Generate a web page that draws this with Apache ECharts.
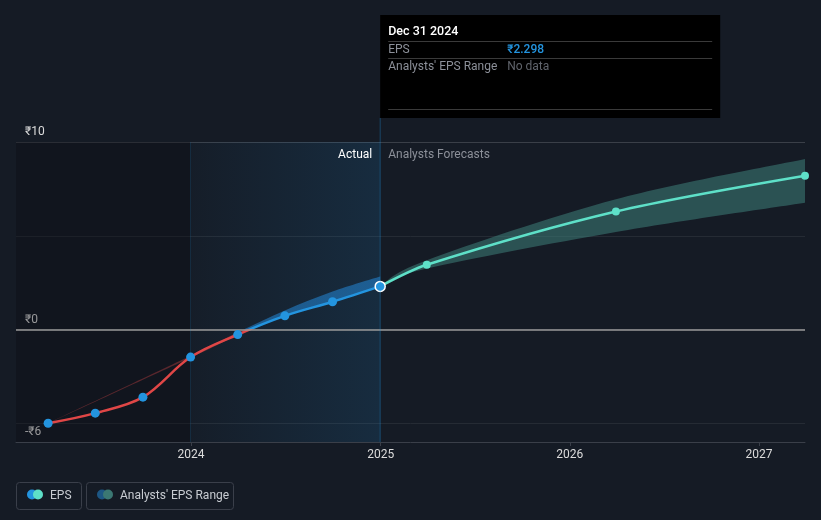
<!DOCTYPE html>
<html><head><meta charset="utf-8">
<script src="https://cdn.jsdelivr.net/npm/echarts@6/dist/echarts.min.js"></script>
<style>html,body{margin:0;padding:0;background:#151b25;}#c{width:821px;height:520px;}</style>
</head><body><div id="c"></div>
<script>
// ---- data ----
const actualDates = ['2023-03-31','2023-06-30','2023-09-30','2023-12-31','2024-03-31','2024-06-30','2024-09-30','2024-12-31'];
const actualEps = [-5.0, -4.46, -3.61, -1.47, -0.27, 0.73, 1.48, 2.298];
const pastRangeDates = ['2023-03-31','2023-12-31','2024-03-31','2024-06-30','2024-09-30','2024-12-31'];
const pastRangeLow = [-5.0, -1.5, -0.3, 0.73, 1.48, 2.298];
const pastRangeHigh = [-5.0, -1.4, -0.15, 1.02, 2.03, 2.83];
const forecastDates = ['2024-12-31','2025-03-31','2026-03-31','2027-03-31'];
const forecastEps = [2.298, 3.45, 6.29, 8.2];
const forecastLow = [2.298, 3.25, 5.2, 6.76];
const forecastHigh = [2.298, 3.7, 6.95, 9.1];
const xTickDates = ['2024-01-01','2025-01-01','2026-01-01','2027-01-01'];
const yLabelValues = [-6, 0, 10];
const yGridValues = [-5, 0, 5, 10];
const xMinDate = '2023-01-28', xMaxDate = '2027-03-31';
const pastStartDate = '2023-12-31';
const signChangeDate = '2024-04-15';

const ts = d => { const p = d.split('-').map(Number); return Date.UTC(p[0], p[1] - 1, p[2]); };
const lastActualDate = actualDates[actualDates.length - 1];

const RED = '#e04646', BLUE = '#2394df', TEAL = '#5ee0c8';
const FONT = 'Roboto, "Noto Sans", sans-serif';

const chart = echarts.init(document.getElementById('c'), null, {renderer: 'canvas'});
const pair = (ds, vs) => ds.map((d, i) => [ts(d), vs[i]]);
const triple = (ds, lo, hi) => ds.map((d, i) => [ts(d), lo[i], hi[i]]);

// smooth cubic path segments through pixel points
function smoothSegs(pts, t) {
  let s = '';
  for (let i = 0; i < pts.length - 1; i++) {
    const p0 = pts[i - 1] || pts[i], p1 = pts[i], p2 = pts[i + 1], p3 = pts[i + 2] || p2;
    const c1 = [p1[0] + (p2[0] - p0[0]) * t, p1[1] + (p2[1] - p0[1]) * t];
    const c2 = [p2[0] - (p3[0] - p1[0]) * t, p2[1] - (p3[1] - p1[1]) * t];
    s += ' C' + c1[0] + ',' + c1[1] + ' ' + c2[0] + ',' + c2[1] + ' ' + p2[0] + ',' + p2[1];
  }
  return s;
}
// range band: drawn once from all rows of the series (x, low, high)
function bandRenderer(fillFn) {
  return function (params, api) {
    if (params.dataIndexInside !== 0) return null;
    const n = params.dataInsideLength;
    const up = [], lo = [];
    for (let i = 0; i < n; i++) {
      up.push(api.coord([api.value(0, i), api.value(2, i)]));
      lo.push(api.coord([api.value(0, i), api.value(1, i)]));
    }
    lo.reverse();
    const d = 'M' + up[0][0] + ',' + up[0][1] + smoothSegs(up, 0.17) +
      ' L' + lo[0][0] + ',' + lo[0][1] + smoothSegs(lo, 0.17) + ' Z';
    return {type: 'path', shape: {pathData: d}, style: {fill: fillFn(api, up)}};
  };
}

const option = {
  backgroundColor: '#151b25',
  animation: false,
  textStyle: {fontFamily: FONT},
  grid: {left: 16, right: 16, top: 142, bottom: 78, containLabel: false},
  xAxis: {
    type: 'value', min: ts(xMinDate), max: ts(xMaxDate),
    axisLine: {show: true, onZero: false, lineStyle: {color: '#3a3f49', width: 1}},
    axisTick: {show: true, customValues: xTickDates.map(ts), length: 4, lineStyle: {color: '#3a3f49'}},
    axisLabel: {customValues: xTickDates.map(ts), color: '#dcdcdc', fontSize: 12, margin: 7, fontFamily: FONT,
      formatter: v => String(new Date(v).getUTCFullYear())},
    splitLine: {show: false}
  },
  yAxis: {
    type: 'value', min: -6, max: 10,
    axisLine: {show: false},
    axisTick: {show: false, customValues: yGridValues},
    axisLabel: {customValues: yLabelValues, inside: true, margin: 9, verticalAlign: 'bottom',
      padding: [0, 0, 4, 0], color: '#dcdcdc', fontSize: 12, fontFamily: FONT,
      formatter: v => (v < 0 ? '-₹' + Math.abs(v) : '₹' + v)},
    splitLine: {show: true, lineStyle: {color: ['#252b34', '#252b34', '#252b34', '#3a3f48'], width: 1}}
  },
  visualMap: [
    {type: 'piecewise', show: false, seriesIndex: 3, dimension: 1,
      pieces: [{min: -1000, max: 0, color: RED}, {min: 0, max: 1000, color: BLUE}]}
  ],
  series: [
    { // 0: background zones and reference lines
      type: 'line', data: [], z: 1, silent: true,
      markArea: {silent: true, data: [
        [{xAxis: ts(xMinDate), itemStyle: {color: 'rgba(10,10,14,0.32)'}}, {xAxis: ts(pastStartDate)}],
        [{xAxis: ts(pastStartDate), itemStyle: {color: new echarts.graphic.LinearGradient(0, 0, 1, 0, [
            {offset: 0, color: 'rgba(35,148,223,0.02)'}, {offset: 1, color: 'rgba(35,148,223,0.14)'}])}},
         {xAxis: ts(lastActualDate)}]
      ]},
      markLine: {silent: true, symbol: 'none', label: {show: false}, data: [
        {yAxis: 0, lineStyle: {color: '#9a9a9a', width: 1.5, type: 'solid'}},
        {xAxis: ts(pastStartDate), lineStyle: {color: 'rgba(35,148,223,0.16)', width: 1, type: 'solid'}}
      ]}
    },
    { // 1: past analysts' range band
      type: 'custom', z: 2, silent: true, clip: true,
      data: triple(pastRangeDates, pastRangeLow, pastRangeHigh), encode: {x: 0, y: [1, 2]},
      renderItem: bandRenderer(function (api, up) {
        const x0 = up[0][0], x1 = up[up.length - 1][0];
        const xc = api.coord([ts(signChangeDate), 0])[0];
        const o = Math.max(0, Math.min(1, (xc - x0) / (x1 - x0)));
        return new echarts.graphic.LinearGradient(0, 0, 1, 0, [
          {offset: 0, color: 'rgba(224,70,70,0.35)'}, {offset: o, color: 'rgba(224,70,70,0.35)'},
          {offset: o, color: 'rgba(35,135,215,0.55)'}, {offset: 1, color: 'rgba(35,135,215,0.55)'}]);
      })
    },
    { // 2: forecast analysts' range band
      type: 'custom', z: 2, silent: true, clip: true,
      data: triple(forecastDates, forecastLow, forecastHigh), encode: {x: 0, y: [1, 2]},
      renderItem: bandRenderer(() => 'rgba(62,128,122,0.55)')
    },
    { // 3: EPS actual line
      type: 'line', name: 'EPS', data: pair(actualDates, actualEps), symbol: 'none', smooth: 0.35,
      lineStyle: {width: 2.5}, z: 3, silent: true
    },
    { // 4: forecast line
      type: 'line', name: 'EPS forecast', smooth: 0.3, z: 3, silent: true,
      data: forecastDates.map((d, i) => i === 0 ? {value: [ts(d), forecastEps[i]], symbol: 'none'} : [ts(d), forecastEps[i]]),
      symbol: 'circle', symbolSize: 8, showSymbol: true,
      lineStyle: {width: 2.5, color: TEAL}, itemStyle: {color: TEAL, opacity: 1}
    },
    { // 5: EPS markers
      type: 'scatter', z: 5, silent: true, symbolSize: 9, itemStyle: {color: BLUE, opacity: 1},
      data: actualDates.map((d, i) => i === actualDates.length - 1
        ? {value: [ts(d), actualEps[i]], symbolSize: 10, itemStyle: {color: BLUE, opacity: 1, borderColor: '#ffffff', borderWidth: 1.5}}
        : [ts(d), actualEps[i]])
    }
  ]
};
chart.setOption(option);

// ---- overlays: hover-card, section labels, legend ----
const px = chart.convertToPixel({xAxisIndex: 0}, ts(lastActualDate));
const gridBottom = 520 - 78;
const months = ['Jan','Feb','Mar','Apr','May','Jun','Jul','Aug','Sep','Oct','Nov','Dec'];
const dParts = lastActualDate.split('-');
const dateLabel = months[+dParts[1] - 1] + ' ' + (+dParts[2]) + ' ' + dParts[0];
const valueLabel = '₹' + actualEps[actualEps.length - 1].toFixed(3);
const tipW = 340, tipTop = 15, tipH = 103;
const tx = px + 8, vx = px + 127;

chart.setOption({graphic: [
  {type: 'line', silent: true, z: 10, shape: {x1: px, y1: tipTop + tipH, x2: px, y2: gridBottom},
    style: {stroke: 'rgba(35,148,223,0.35)', lineWidth: 1}},
  {type: 'rect', silent: true, z: 20, shape: {x: px, y: tipTop, width: tipW, height: tipH}, style: {fill: '#000000'}},
  {type: 'text', silent: true, z: 21, x: tx, y: 32, style: {text: dateLabel, fill: '#ffffff', font: '500 12.5px ' + FONT, verticalAlign: 'middle'}},
  {type: 'line', silent: true, z: 21, shape: {x1: tx, y1: 41.5, x2: px + tipW - 8, y2: 41.5}, style: {stroke: '#3a3a3a', lineWidth: 1}},
  {type: 'text', silent: true, z: 21, x: tx, y: 50, style: {text: 'EPS', fill: '#8c9099', font: '12px ' + FONT, verticalAlign: 'middle'}},
  {type: 'text', silent: true, z: 21, x: vx, y: 50, style: {text: valueLabel, fill: BLUE, font: '500 12px ' + FONT, verticalAlign: 'middle'}},
  {type: 'line', silent: true, z: 21, shape: {x1: tx, y1: 58.5, x2: px + tipW - 8, y2: 58.5}, style: {stroke: '#3a3a3a', lineWidth: 1}},
  {type: 'text', silent: true, z: 21, x: tx, y: 67, style: {text: "Analysts' EPS Range", fill: '#8c9099', font: '12px ' + FONT, verticalAlign: 'middle'}},
  {type: 'text', silent: true, z: 21, x: vx, y: 67, style: {text: 'No data', fill: '#60646c', font: '12px ' + FONT, verticalAlign: 'middle'}},
  {type: 'line', silent: true, z: 21, shape: {x1: tx, y1: 109.5, x2: px + tipW - 8, y2: 109.5}, style: {stroke: '#3a3a3a', lineWidth: 1}},

  {type: 'text', silent: true, z: 11, x: px - 8, y: 155, style: {text: 'Actual', fill: '#ffffff', font: '12px ' + FONT, align: 'right', verticalAlign: 'middle'}},
  {type: 'text', silent: true, z: 11, x: px + 8, y: 155, style: {text: 'Analysts Forecasts', fill: '#8c9099', font: '12px ' + FONT, align: 'left', verticalAlign: 'middle'}},

  {type: 'rect', silent: true, z: 11, shape: {x: 16.5, y: 482.5, width: 65, height: 27, r: 3}, style: {fill: 'transparent', stroke: '#3a3f4a', lineWidth: 1}},
  {type: 'circle', silent: true, z: 12, shape: {cx: 32, cy: 494.5, r: 5}, style: {fill: BLUE}},
  {type: 'circle', silent: true, z: 13, shape: {cx: 38, cy: 494.5, r: 5}, style: {fill: TEAL}},
  {type: 'text', silent: true, z: 12, x: 50, y: 496, style: {text: 'EPS', fill: '#c8ccd2', font: '12px ' + FONT, verticalAlign: 'middle'}},
  {type: 'rect', silent: true, z: 11, shape: {x: 86.5, y: 482.5, width: 147, height: 27, r: 3}, style: {fill: 'transparent', stroke: '#3a3f4a', lineWidth: 1}},
  {type: 'circle', silent: true, z: 12, shape: {cx: 102, cy: 494.5, r: 5}, style: {fill: '#1d5784'}},
  {type: 'circle', silent: true, z: 13, shape: {cx: 108, cy: 494.5, r: 5}, style: {fill: '#3b7873'}},
  {type: 'text', silent: true, z: 12, x: 120, y: 496, style: {text: "Analysts' EPS Range", fill: '#c8ccd2', font: '12px ' + FONT, verticalAlign: 'middle'}}
]});
</script>
</body></html>
